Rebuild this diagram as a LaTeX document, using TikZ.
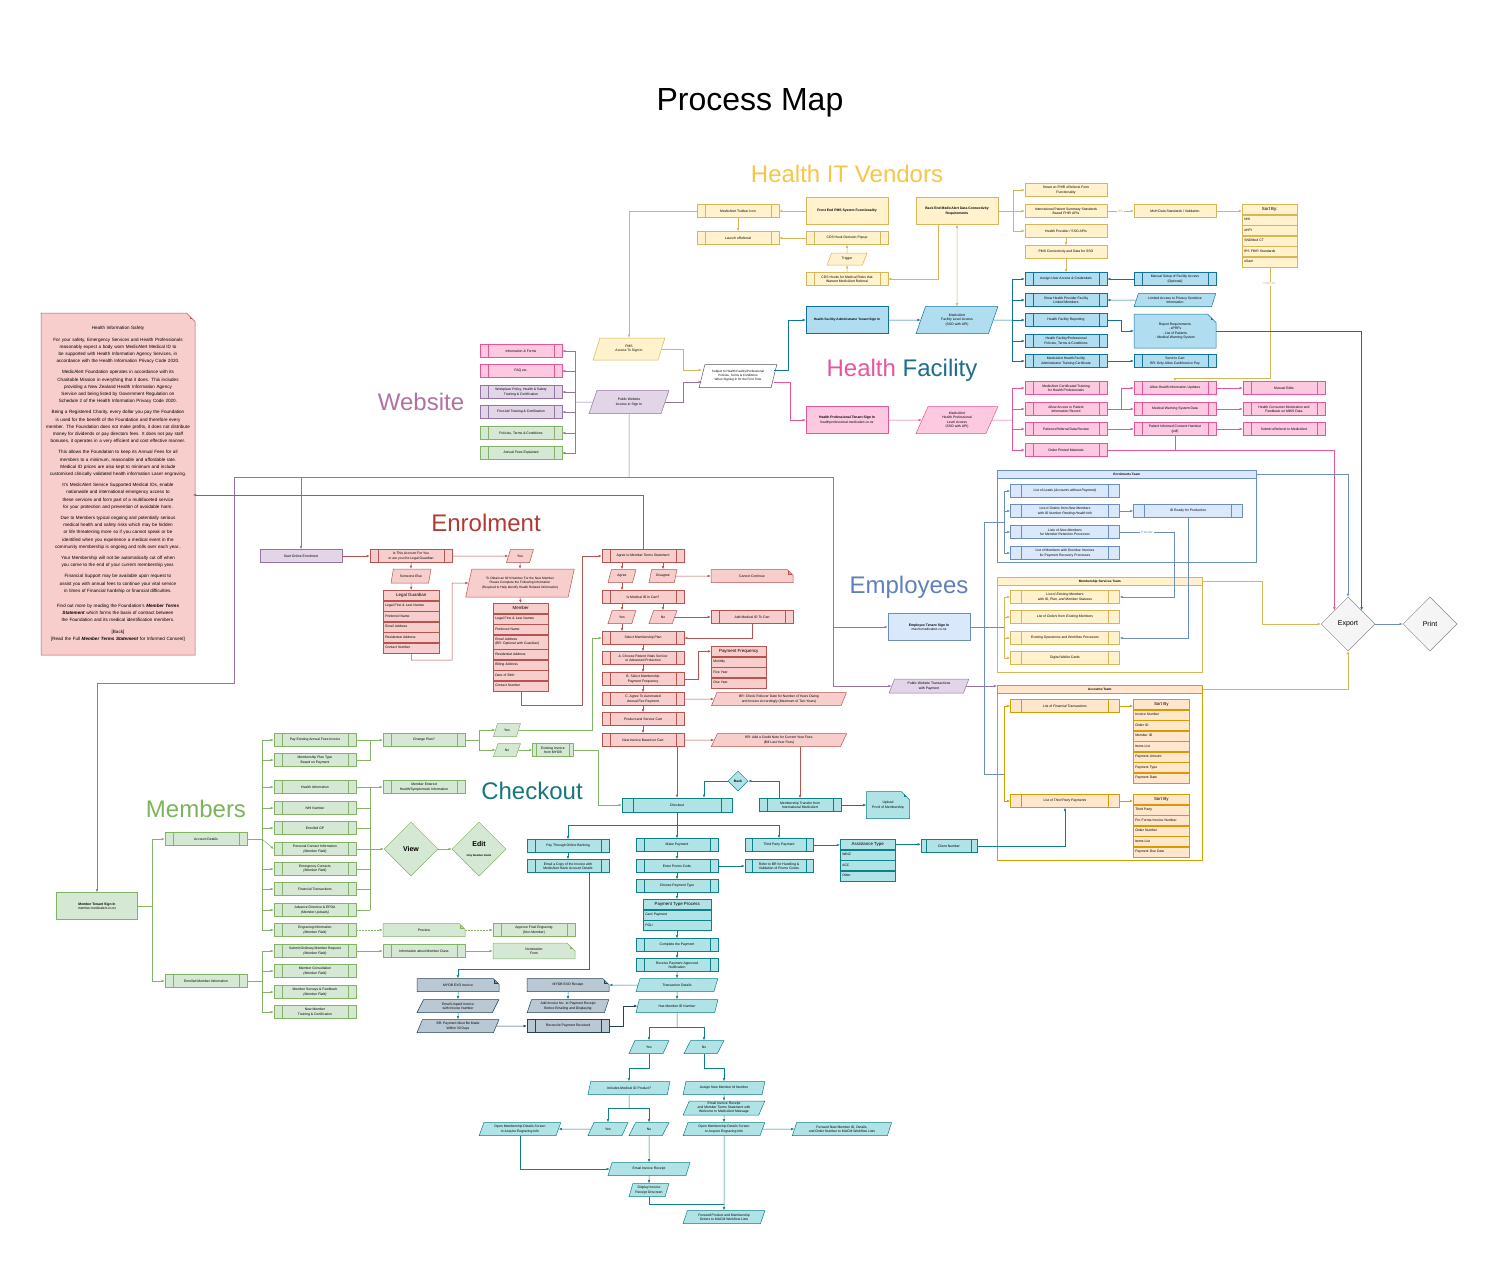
\documentclass[tikz,border=0pt]{standalone}
\usepackage{fontspec}
\setmainfont{Liberation Sans}
\usetikzlibrary{arrows.meta,calc,shapes.geometric,shapes.misc}
\hyphenpenalty=10000
\exhyphenpenalty=10000

\definecolor{yelF}{HTML}{FFF2CC}\definecolor{yelD}{HTML}{D6B656}
\definecolor{hfbF}{HTML}{B1DDF0}\definecolor{hfbD}{HTML}{10739E}
\definecolor{pnkF}{HTML}{FCC9E0}\definecolor{pnkD}{HTML}{E6549C}
\definecolor{purF}{HTML}{E1D5E7}\definecolor{purD}{HTML}{9673A6}
\definecolor{redF}{HTML}{F8CECC}\definecolor{redD}{HTML}{B85450}
\definecolor{grnF}{HTML}{D5E8D4}\definecolor{grnD}{HTML}{82B366}
\definecolor{teaF}{HTML}{B0E3E6}\definecolor{teaD}{HTML}{0E8088}
\definecolor{gryF}{HTML}{BAC8D3}\definecolor{gryD}{HTML}{23445D}
\definecolor{empF}{HTML}{DAE8FC}\definecolor{empD}{HTML}{6C8EBF}
\definecolor{orgF}{HTML}{FFE6CC}\definecolor{orgD}{HTML}{D79B00}
\definecolor{expF}{HTML}{F5F5F5}\definecolor{expD}{HTML}{888888}
\definecolor{whtF}{HTML}{FFFFFF}\definecolor{whtD}{HTML}{555555}
\definecolor{vendT}{HTML}{F6C646}
\definecolor{webT}{HTML}{B0739F}
\definecolor{enrT}{HTML}{B23A33}
\definecolor{empT}{HTML}{5F80B8}
\definecolor{memT}{HTML}{7DB35C}
\definecolor{chkT}{HTML}{15787D}
\definecolor{hlthT}{HTML}{E8559C}
\definecolor{facT}{HTML}{1B6E8F}

\newcommand\bxf{\fontsize{3.4}{4.3}\selectfont}
\newcommand\hxf{\fontsize{4.4}{5}\selectfont}

\tikzset{
  shp/.style={draw=#1D, fill=#1F, font=\bxf, align=center, inner sep=1pt,
    minimum width=82, minimum height=13},
  pbox/.style={rectangle, shp=#1},
  proc/.style={rectangle, shp=#1, path picture={
    \draw[#1D] ($(path picture bounding box.north west)!0.1!(path picture bounding box.north east)$)
      -- ($(path picture bounding box.south west)!0.1!(path picture bounding box.south east)$)
      ($(path picture bounding box.north west)!0.9!(path picture bounding box.north east)$)
      -- ($(path picture bounding box.south west)!0.9!(path picture bounding box.south east)$);}},
  para/.style={trapezium, trapezium left angle=70, trapezium right angle=110,
    trapezium stretches=true, shp=#1},
  docn/.style={chamfered rectangle, chamfered rectangle corners=north east,
    chamfered rectangle xsep=5pt, shp=#1, path picture={
    \filldraw[draw=#1D, fill=#1D!30!#1F]
      ([xshift=-5pt]path picture bounding box.north east)
      -- ([xshift=-5pt,yshift=-5pt]path picture bounding box.north east)
      -- ([yshift=-5pt]path picture bounding box.north east);}},
  dia/.style={diamond, aspect=1, draw=#1D, fill=#1F, inner sep=0pt, align=center,
    minimum width=54, minimum height=54, font=\fontsize{7}{8}\selectfont},
  lhead/.style={rectangle, draw=#1D, fill=#1F, font=\hxf, anchor=north west,
    minimum height=10, inner sep=1pt},
  litem/.style={rectangle, draw=#1D, fill=#1F, font=\bxf, anchor=north west,
    align=left, minimum height=10, inner xsep=2pt, inner ysep=1pt},
  cont/.style={draw=#1D, anchor=north west, inner sep=0pt},
  chead/.style={draw=#1D, fill=#1F, anchor=north west, minimum height=8, inner sep=0pt,
    font=\bfseries\fontsize{3.2}{4}\selectfont},
  arr/.style={-{Latex[length=3.2pt,width=2.6pt]}},
  lbl/.style={fill=white, inner sep=1pt, font=\fontsize{3.2}{4}\selectfont},
  sect/.style={font=\fontsize{24}{28}\selectfont}
}

\begin{document}
\begin{tikzpicture}[x=1pt,y=-1pt,line width=0.5pt]
\fill[white] (0,0) rectangle (1500,1267);
\useasboundingbox (0,0) rectangle (1500,1267);

\node[font=\fontsize{32}{36}\selectfont] (ttl) at (750,103) {Process Map};
\node[sect, text=vendT] (tven) at (847,174) {Health IT Vendors};
\node[sect] (thf) at (902,370) {\textcolor{hlthT}{Health} \textcolor{facT}{Facility}};
\node[sect, text=webT] (tweb) at (421,402) {Website};
\node[sect, text=enrT] (tenr) at (486,523) {Enrolment};
\node[sect, text=empT] (temp) at (909,587) {Employees};
\node[sect, text=memT] (tmem) at (196,809) {Members};
\node[sect, text=chkT] (tchk) at (532,791) {Checkout};

\node[proc=yel] (tool) at (738,211) {MedicAlert Toolbar Icon};
\node[proc=yel] (lau) at (738,238) {Launch eReferral};
\node[pbox=yel, minimum height=27, font=\bxf\bfseries] (fe) at (847,211) {Front End PMS System Functionality};
\node[proc=yel] (cdsp) at (847,238) {CDS Hook Decision Popup};
\node[para=yel, minimum width=40, minimum height=12] (trig) at (847,259) {Trigger};
\node[proc=yel] (cdsr) at (847,279) {CDS Hooks for Medical Risks that\\Warrant MedicAlert Referral};
\node[pbox=yel, minimum height=27, font=\bxf\bfseries] (be) at (957,211) {Back End MedicAlert Data Connectivity\\Requirements};
\node[pbox=yel] (sof) at (1066,190) {Smart on FHIR eReferral Form\\Functionality};
\node[pbox=yel] (ips) at (1066,211) {International Patient Summary Standards\\Based FHIR APIs};
\node[pbox=yel] (hps) at (1066,231) {Health Provider / SSO APIs};
\node[pbox=yel] (pmsc) at (1066,252) {PMS Connectivity and Data for SSO};
\node[pbox=yel] (moh) at (1175,211) {MoH Data Standards / Validation};
\node[lhead=yel, minimum width=55] (sbv) at (1242,204) {Sort By:};
\node[litem=yel, text width=51] (sbv1) at (sbv.south west) {NHI};
\node[litem=yel, text width=51] (sbv2) at (sbv1.south west) {eHPI};
\node[litem=yel, text width=51] (sbv3) at (sbv2.south west) {SNOMed CT};
\node[litem=yel, text width=51] (sbv4) at (sbv3.south west) {IPS FHIR Standards};
\node[litem=yel, text width=51] (sbv5) at (sbv4.south west) {eSam};

\node[pbox=hfb, minimum height=27, font=\fontsize{3.2}{4.2}\selectfont\bfseries] (hfa) at (847,320) {Health Facility Administrator Tenant Sign In};
\node[para=hfb, minimum height=27] (fla) at (957,320) {MedicAlert\\Facility Level Access\\(SSO with API)};
\node[proc=hfb] (aua) at (1066,279) {Assign User Access \& Credentials};
\node[proc=hfb] (shp) at (1066,300) {Show Health Provider Facility\\Linked Members};
\node[proc=hfb] (hfr) at (1066,320) {Health Facility Reporting};
\node[proc=hfb] (hpp) at (1066,341) {Health Facility/Professional\\Policies, Terms \& Conditions};
\node[proc=hfb] (atc) at (1066,361) {MedicAlert Health Facility\\Administrator Training Certificate};
\node[proc=hfb] (msf) at (1175,279) {Manual Setup of Facility Access\\(Optional)};
\node[para=hfb] (lap) at (1175,300) {Limited Access to Privacy Sensitive\\Information};
\node[docn=hfb, minimum height=34] (rep) at (1175,331) {Report Requirements\\- ePRFs\\- List of Patients\\- Medical Warning System};
\node[proc=hfb] (stc) at (1175,361) {Send to Cart\\BR: Only Allow Card/Invoice Pay};

\node[pbox=pnk, minimum height=27] (hpt) at (847,420) {\textbf{Health Professional Tenant Sign In}\\healthprofessional.medicalert.co.nz};
\node[para=pnk, minimum height=27] (hla) at (957,420) {MedicAlert\\Health Professional\\Level Access\\(SSO with API)};
\node[proc=pnk] (mct) at (1066,388) {MedicAlert Certificated Training\\for Health Professionals};
\node[proc=pnk] (aap) at (1066,409) {Allow Access to Patient\\Information Record};
\node[proc=pnk] (ped) at (1066,429) {Patient eReferral Data Review};
\node[proc=pnk] (opm) at (1066,450) {Order Printed Materials};
\node[proc=pnk] (ahu) at (1175,388) {Allow Health Information Updates};
\node[proc=pnk] (mws) at (1175,409) {Medical Warning System Data};
\node[proc=pnk] (pic) at (1175,429) {Patient Informed Consent Handout\\(pdf)};
\node[proc=pnk] (med) at (1284,388) {Manual Edits};
\node[proc=pnk] (hcm) at (1284,409) {Health Consumer Moderation and\\Feedback on MWS Data};
\node[proc=pnk] (sbm) at (1284,429) {Submit eReferral to MedicAlert};

\node[para=yel, minimum width=72, minimum height=22] (pms) at (629,349) {PMS\\Access To Sign In};
\node[para=pur, minimum width=80, minimum height=23] (pws) at (629,402) {Public Website\\Access to Sign In};
\node[para=wht, minimum width=78, minimum height=23, font=\fontsize{3.1}{4}\selectfont] (subj) at (738,376) {Subject to Health Facility/Professional\\Policies, Terms \& Conditions\\When Signing in for the First Time};
\node[proc=pnk] (inf) at (521,351) {Information \& Forms};
\node[proc=pnk] (faq) at (521,371) {FAQ etc.};
\node[proc=pur] (wph) at (521,392) {Workplace Policy, Health \& Safety\\Training \& Certification};
\node[proc=pur] (fat) at (521,412) {First Aid Training \& Certification};
\node[proc=grn] (ptc) at (521,433) {Policies, Terms \& Conditions};
\node[proc=grn] (afe) at (521,453) {Annual Fees Explained};

\node[docn=red, minimum width=150, minimum height=342, text width=144, inner xsep=0pt, inner ysep=2pt,
  font=\fontsize{4.6}{7.2}\selectfont] (hns) at (118,484) {Health Information Safety\\[4pt]
For your safety, Emergency Services and Health Professionals reasonably expect a body worn MedicAlert Medical ID to be supported with Health Information Agency Services, in accordance with the Health Information Privacy Code 2020.\\[4pt]
MedicAlert Foundation operates in accordance with its Charitable Mission in everything that it does. This includes providing a New Zealand Health Information Agency Service and being listed by Government Regulation on Schedule 2 of the Health Information Privacy Code 2020.\\[4pt]
Being a Registered Charity, every dollar you pay the Foundation is used for the benefit of the Foundation and therefore every member. The Foundation does not make profits, it does not distribute money for dividends or pay directors fees. It does not pay staff bonuses, it operates in a very efficient and cost effective manner.\\[4pt]
This allows the Foundation to keep its Annual Fees for all members to a minimum, reasonable and affordable rate. Medical ID prices are also kept to minimum and include customised clinically validated health information Laser engraving.\\[4pt]
It's MedicAlert Service Supported Medical IDs, enable nationwide and international emergency access to these services and form part of a multifaceted service for your protection and prevention of avoidable harm.\\[4pt]
Due to Members typical ongoing and potentially serious medical health and safety risks which may be hidden or life threatening more so if you cannot speak or be identified when you experience a medical event in the community membership is ongoing and rolls over each year..\\[4pt]
Your Membership will not be automatically cut off when you come to the end of your current membership year.\\[4pt]
Financial Support may be available upon request to assist you with annual fees to continue your vital service in times of Financial hardship or financial difficulties.\\[8pt]
Find out more by reading the Foundation's \textbf{\textit{Member Terms Statement}} which forms the basis of contract between the Foundation and its medical identification members.\\[4pt]
[Back]\\{}[Read the Full \textbf{\textit{Member Terms Statement}} for Informed Consent]};

\node[pbox=pur] (sol) at (301,556) {Start Online Enrolment};
\node[proc=red] (ita) at (411,556) {Is This Account For You\\or are you the Legal Guardian};
\node[para=red, minimum width=27] (you) at (520,556) {You};
\node[para=red, minimum width=40, minimum height=14] (sme) at (411,576) {Someone Else};
\node[lhead=red, minimum width=56] (lg) at (383,590) {Legal Guardian};
\node[litem=red, text width=52] (lg1) at (lg.south west) {Legal First \& Last Names};
\node[litem=red, text width=52] (lg2) at (lg1.south west) {Preferred Name};
\node[litem=red, text width=52] (lg3) at (lg2.south west) {Email Address};
\node[litem=red, text width=52] (lg4) at (lg3.south west) {Residential Address};
\node[litem=red, text width=52] (lg5) at (lg4.south west) {Contact Number};
\node[para=red, minimum width=109, minimum height=28, font=\fontsize{3.2}{4.3}\selectfont] (nhi) at (520,583) {To Obtain an NHI Number For the New Member\\Please Complete the Following Information\\(Required to Help Identify Health Related Information)};
\node[lhead=red, minimum width=55] (mem) at (493,603) {Member};
\node[litem=red, text width=51] (mem1) at (mem.south west) {Legal First \& Last Names};
\node[litem=red, text width=51] (mem2) at (mem1.south west) {Preferred Name};
\node[litem=red, text width=51, minimum height=14] (mem3) at (mem2.south west) {Email Address\\(BR: Optional with Guardian)};
\node[litem=red, text width=51] (mem4) at (mem3.south west) {Residential Address};
\node[litem=red, text width=51] (mem5) at (mem4.south west) {Billing Address};
\node[litem=red, text width=51] (mem6) at (mem5.south west) {Date of Birth};
\node[litem=red, text width=51] (mem7) at (mem6.south west) {Contact Number};
\node[proc=red] (agt) at (643,556) {Agree to Member Terms Statement};
\node[para=red, minimum width=28] (agr) at (622,576) {Agree};
\node[para=red, minimum width=28] (dis) at (663,576) {Disagree};
\node[docn=red] (ccn) at (752,576) {Cannot Continue};
\node[proc=red] (imc) at (643,597) {Is Medical ID In Cart?};
\node[para=red, minimum width=28] (imy) at (622,617) {Yes};
\node[para=red, minimum width=28] (imn) at (663,617) {No};
\node[proc=red] (amc) at (752,617) {Add Medical ID To Cart};
\node[proc=red] (smp) at (643,638) {Select Membership Plan};
\node[proc=red] (cpv) at (643,658) {A. Choose Patient Vitals Service\\or Advanced Protection};
\node[proc=red] (smf) at (643,679) {B. Select Membership\\Payment Frequency};
\node[proc=red] (aaf) at (643,699) {C. Agree To Automated\\Annual Fee Payment};
\node[proc=red] (psc) at (643,719) {Product and Service Cart};
\node[proc=red] (nib) at (643,740) {New Invoice Based on Cart};
\node[lhead=red, minimum width=55] (pf) at (711,646) {Payment Frequency};
\node[litem=red, text width=51] (pf1) at (pf.south west) {Monthly};
\node[litem=red, text width=51] (pf2) at (pf1.south west) {Five Year};
\node[litem=red, text width=51] (pf3) at (pf2.south west) {One Year};
\node[para=red, minimum width=136] (brr) at (779,699) {BR: Check Rollover Date for Number of Years Owing\\and Invoice Accordingly (Maximum of Two Years)};
\node[para=red, minimum width=136] (brc) at (779,740) {BR: Add a Credit Note for Current Year Fees\\(Bill Last Year Fees)};

\node[cont=emp, minimum width=259, minimum height=92] (ent) at (997,470) {};
\node[chead=emp, minimum width=259] (enh) at (997,470) {Enrolments Team};
\node[cont=yel, minimum width=205, minimum height=95] (mst) at (997,577) {};
\node[chead=yel, minimum width=205] (msh) at (997,577) {Membership Services Team};
\node[cont=org, minimum width=205, minimum height=175] (act) at (997,685) {};
\node[chead=org, minimum width=205] (ach) at (997,685) {Accounts Team};
\node[pbox=emp, minimum height=27] (ets) at (929,627) {\textbf{Employee Tenant Sign In}\\macm.medicalert.co.nz};
\node[para=pur, minimum width=80, minimum height=14] (pwt) at (929,686) {Public Website Transactions\\with Payment};
\node[proc=emp, minimum width=109] (lead) at (1065,491) {List of \textit{Leads (Accounts without Payment)}};
\node[proc=emp, minimum width=109] (lno) at (1065,511) {List of \textit{Orders} from \textit{New Members}\\\textit{with ID Number Pending Health Info}};
\node[proc=emp, minimum width=109] (lnm) at (1065,532) {Lists of \textit{New Members}\\\textit{for Member Retention Processes}};
\node[proc=emp, minimum width=109] (lod) at (1065,553) {List of Members with Overdue Invoices\\for Payment Recovery Processes};
\node[proc=emp, minimum width=109] (idr) at (1188,511) {ID Ready for Production};
\node[proc=yel, minimum width=109] (exm) at (1065,597) {List of \textit{Existing Members}\\\textit{with ID, Plan, and Member Statuses}};
\node[proc=yel, minimum width=109] (oem) at (1065,617) {List of \textit{Orders} from \textit{Existing Members}};
\node[proc=yel, minimum width=109] (eop) at (1065,638) {Existing Operations and \textit{Workflow Processes}};
\node[proc=yel, minimum width=109] (dwc) at (1065,658) {Digital Wallet Cards};
\node[proc=org, minimum width=109] (lft) at (1065,706) {List of \textit{Financial Transactions}};
\node[lhead=org, minimum width=56] (sba) at (1133,699) {Sort By};
\node[litem=org, text width=52] (sba1) at (sba.south west) {Invoice Number};
\node[litem=org, text width=52] (sba2) at (sba1.south west) {Order ID};
\node[litem=org, text width=52] (sba3) at (sba2.south west) {Member ID};
\node[litem=org, text width=52] (sba4) at (sba3.south west) {Items List};
\node[litem=org, text width=52] (sba5) at (sba4.south west) {Payment Amount};
\node[litem=org, text width=52] (sba6) at (sba5.south west) {Payment Type};
\node[litem=org, text width=52] (sba7) at (sba6.south west) {Payment Date};
\node[proc=org, minimum width=109] (ltp) at (1065,801) {List of \textit{Third Party Payments}};
\node[lhead=org, minimum width=56] (sbb) at (1133,794) {Sort By};
\node[litem=org, text width=52] (sbb1) at (sbb.south west) {Third Party};
\node[litem=org, text width=52] (sbb2) at (sbb1.south west) {Pro Forma Invoice Number};
\node[litem=org, text width=52] (sbb3) at (sbb2.south west) {Order Number};
\node[litem=org, text width=52] (sbb4) at (sbb3.south west) {Items List};
\node[litem=org, text width=52] (sbb5) at (sbb4.south west) {Payment Due Date};
\node[dia=exp] (expt) at (1348,624) {Export};
\node[dia=exp] (prt) at (1430,624) {Print};

\node[pbox=grn, minimum width=81, minimum height=27] (mts) at (97,906) {\textbf{Member Tenant Sign In}\\member.medicalert.co.nz};
\node[proc=grn] (acd) at (206,839) {Account Details};
\node[proc=grn] (emi) at (206,981) {Enrolled Member Information};
\node[proc=grn] (m1) at (315,740) {Pay Existing Annual Fees Invoice};
\node[proc=grn] (m2) at (315,760) {Membership Plan Type\\Based on Payment};
\node[proc=grn] (m3) at (315,787) {Health Information};
\node[proc=grn] (m4) at (315,808) {NHI Number};
\node[proc=grn] (m5) at (315,828) {Enrolled GP};
\node[proc=grn] (m6) at (315,849) {Personal Contact Information\\\textit{(Member Field)}};
\node[proc=grn] (m7) at (315,869) {Emergency Contacts\\\textit{(Member Field)}};
\node[proc=grn] (m8) at (315,889) {Financial Transactions};
\node[proc=grn] (m9) at (315,910) {Advance Directive \& EPOA\\\textit{(Member Uploads)}};
\node[proc=grn] (m10) at (315,930) {Engraving Information\\\textit{(Member Field)}};
\node[proc=grn] (m11) at (315,951) {Submit Ordinary Member Request\\\textit{(Member Field)}};
\node[proc=grn] (m12) at (315,971) {Member Consultation\\\textit{(Member Field)}};
\node[proc=grn] (m13) at (315,992) {Member Surveys \& Feedback\\\textit{(Member Field)}};
\node[proc=grn] (m14) at (315,1012) {New Member\\Training \& Certification};
\node[proc=grn] (cpl) at (424,740) {Change Plan?};
\node[para=grn, minimum width=27] (cy) at (507,730) {Yes};
\node[para=grn, minimum width=27] (cn) at (507,750) {No};
\node[proc=grn, minimum width=41] (exi) at (553,750) {Existing Invoice\\from MYOB};
\node[proc=grn] (meh) at (424,787) {Member Entered\\Health/Symptomatic Information};
\node[dia=grn, font=\fontsize{7}{8}\selectfont\bfseries] (view) at (411,849) {View};
\node[dia=grn] (edit) at (479,849) {\textbf{Edit}\\[2pt]{\fontsize{2.6}{3}\selectfont\bfseries\itshape Only Member Fields}};
\node[docn=grn] (prv) at (424,930) {Preview};
\node[proc=grn] (afg) at (534,930) {Approve Final Engraving\\(Non Member)};
\node[proc=grn] (imcl) at (424,951) {Information about Member Class};
\node[docn=grn] (nom) at (534,951) {Nomination\\Form};

\node[proc=tea, minimum width=110, minimum height=14] (chk) at (677,805) {Checkout};
\node[dia=tea, minimum width=20, minimum height=20, font=\bxf\bfseries] (back) at (738,781) {Back};
\node[proc=tea] (mtr) at (800,805) {Membership Transfer from\\International MedicAlert};
\node[docn=tea, minimum width=40, minimum height=27] (upl) at (888,805) {Upload\\Proof of Membership};
\node[proc=tea] (pob) at (568,846) {Pay Through Online Banking};
\node[proc=tea] (ecp) at (568,866) {Email a Copy of the Invoice with\\MedicAlert Bank Account Details};
\node[proc=tea] (mkp) at (677,845) {Make Payment};
\node[proc=tea] (epc) at (677,866) {Enter Promo Code};
\node[proc=tea] (cpt) at (677,886) {Choose Payment Type};
\node[lhead=tea, minimum width=68] (ptp) at (643,899) {Payment Type Process};
\node[litem=tea, text width=64] (ptp1) at (ptp.south west) {Card Payment};
\node[litem=tea, text width=64] (ptp2) at (ptp1.south west) {POLi};
\node[proc=tea] (cmp) at (677,945) {Complete the Payment};
\node[proc=tea] (rpa) at (677,965) {Receive Payment Approved\\Notification};
\node[para=tea] (trd) at (677,985) {Transaction Details};
\node[para=tea] (hmi) at (677,1006) {Has Member ID Number};
\node[proc=tea, minimum width=68] (tpp) at (779,845) {Third Party Payment};
\node[proc=tea, minimum width=68] (rbr) at (779,866) {Refer to BR for Handling \&\\Validation of Promo Codes};
\node[lhead=tea, minimum width=55] (ast) at (840,839) {Assistance Type};
\node[litem=tea, text width=51] (ast1) at (ast.south west) {WINZ};
\node[litem=tea, text width=51] (ast2) at (ast1.south west) {ACC};
\node[litem=tea, text width=51] (ast3) at (ast2.south west) {Other};
\node[proc=tea, minimum width=56] (cln) at (949,846) {Client Number};

\node[docn=gry] (myi) at (458,985) {MYOB EXO Invoice};
\node[para=gry] (eui) at (458,1006) {Email Unpaid Invoice\\with Invoice Number};
\node[para=gry] (b30) at (458,1026) {BR: Payment Must Be Made\\Within 30 Days};
\node[docn=gry] (myr) at (568,985) {MYOB EXO Receipt};
\node[para=gry] (ain) at (568,1006) {Add Invoice No. to Payment Receipt\\Before Emailing and Displaying};
\node[proc=gry] (rec) at (568,1026) {Reconcile Payment Received};

\node[para=tea, minimum width=40] (y1) at (649,1047) {Yes};
\node[para=tea, minimum width=40] (n1) at (704,1047) {No};
\node[para=tea] (inc) at (629,1088) {Includes Medical ID Product?};
\node[para=tea] (asg) at (724,1088) {Assign New Member Id Number};
\node[para=tea, minimum height=14, font=\fontsize{3.4}{4}\selectfont] (eim) at (724,1108) {Email Invoice Receipt\\and Member Terms Statement with\\Welcome to MedicAlert Message};
\node[para=tea, minimum width=40] (y2) at (608,1129) {Yes};
\node[para=tea, minimum width=40] (n2) at (649,1129) {No};
\node[para=tea] (oml) at (520,1129) {Open Membership Details Screen\\to Acquire Engraving Info};
\node[para=tea] (omr) at (724,1129) {Open Membership Details Screen\\to Acquire Engraving Info};
\node[para=tea, minimum width=100] (fnm) at (842,1129) {Forward New Member ID, Details,\\and Order Number to MACM Workflow Lists};
\node[para=tea] (eir) at (649,1169) {Email Invoice Receipt};
\node[para=tea, minimum width=40] (dir) at (649,1190) {Display Invoice\\Receipt Onscreen};
\node[para=tea] (fpm) at (724,1217) {Forward Product and Membership\\Orders to MACM Workflow Lists};

\draw[arr,yelD] (fe.west) -- (tool.east);
\draw[arr,yelD] (cdsp.west) -- (lau.east);
\draw[arr,yelD] (tool.south) -- (lau.north);
\draw[arr,yelD] (trig.north) -- (cdsp.south);
\draw[arr,yelD] (cdsr.north) -- (trig.south);
\draw[arr,yelD] ([xshift=-19pt]be.south) |- (cdsr.east);
\draw[{Latex[length=3.2pt,width=2.6pt]}-{Latex[length=3.2pt,width=2.6pt]},yelD] (be.south) -- (fla.north);
\coordinate (vb) at (1013,211);
\draw[yelD] (be.east) -- (vb);
\draw[arr,yelD] (vb) |- (sof.west);
\draw[arr,yelD] (vb) -- (ips.west);
\draw[arr,yelD] (vb) |- (hps.west);
\draw[arr,yelD] (ips.east) -- node[lbl,text=yelD] {HIS} (moh.west);
\draw[arr,yelD] (moh.east) -- (moh.east -| sbv.west);
\draw[arr,yelD] (hps.south) -- (pmsc.north);
\draw[arr,yelD] (pmsc.south) -- (aua.north);
\draw[arr,yelD] (sbv5.south) -- node[lbl,text=yelD,pos=0.15] {DIGITAL} ++(0,111) -| (ahu.north);
\draw[arr,yelD] (tool.west) -| (pms.north);

\draw[arr,hfbD] (hfa.east) -- (fla.west);
\coordinate (fb) at (1012,320);
\draw[hfbD] (fla.east) -- (fb);
\draw[arr,hfbD] (fb) |- (aua.west);
\draw[arr,hfbD] (fb) |- (shp.west);
\draw[arr,hfbD] (fb) -- (hfr.west);
\draw[arr,hfbD] (fb) |- (hpp.west);
\draw[arr,hfbD] (fb) |- (atc.west);
\draw[arr,hfbD] (msf.west) -- (aua.east);
\draw[arr,hfbD] (lap.west) -- (shp.east);
\draw[arr,hfbD] (hfr.east) -- ++(14,0) |- (rep.west);
\draw[arr,hfbD] (atc.east) -- (stc.west);
\draw[arr,hfbD] (rep.east) -| (expt.north east);

\draw[arr,pnkD] (hpt.east) -- (hla.west);
\coordinate (pb) at (1012,420);
\draw[pnkD] (hla.east) -- (pb);
\draw[arr,pnkD] (pb) |- (mct.west);
\draw[arr,pnkD] (pb) |- (aap.west);
\draw[arr,pnkD] (pb) |- (ped.west);
\draw[arr,pnkD] (pb) |- (opm.west);
\draw[arr,pnkD] (aap.east) -- (mws.west);
\draw[arr,pnkD] (aap.east) -- ++(14,0) |- (ahu.west);
\draw[arr,pnkD] (ped.east) -- (pic.west);
\draw[arr,pnkD] (ahu.east) -- (med.west);
\draw[arr,pnkD] (mws.east) -- (hcm.west);
\draw[arr,pnkD] (pic.east) -- (sbm.west);
\draw[pnkD] (pic.south) -- (pic.south |- opm.east);
\draw[arr,pnkD] (opm.east) -| (expt.north west);

\coordinate (sj) at (683,370);
\coordinate (sk) at (683,382);
\draw[arr,yelD] (pms.east) -| (sj) -- ([yshift=6pt]subj.west);
\draw[arr,purD] (pws.east) -| (sk) -- ([yshift=-6pt]subj.west);
\draw[arr,hfbD] ([yshift=6pt]subj.east) -- ++(14,0) |- (hfa.west);
\draw[arr,pnkD] ([yshift=-6pt]subj.east) -- ++(16,0) |- (hpt.west);
\coordinate (wb) at (575,402);
\draw[purD] (pws.west) -- (wb);
\draw[arr,purD] (wb) |- (inf.east);
\draw[arr,purD] (wb) |- (faq.east);
\draw[arr,purD] (wb) |- (wph.east);
\draw[arr,purD] (wb) |- (fat.east);
\draw[arr,purD] (wb) |- (ptc.east);
\draw[arr,purD] (wb) |- (afe.east);

\coordinate (pa) at (629,477);
\coordinate (pl) at (234,477);
\coordinate (pr) at (833,477);
\coordinate (pll) at (234,683);
\draw[purD] (pws.south) -- (pa);
\draw[purD] (pl) -- (pr);
\draw[arr,purD] (sol.north |- pa) -- (sol.north);
\draw[arr,purD] (pl) -- (pll) -| (mts.north);
\draw[arr,purD] (pr) |- (pwt.west);
\draw[arr,purD] (pr |- ets.west) -- (ets.west);
\coordinate (hnsin) at (193,495);
\draw[arr,redD] (agt.north) |- (hnsin);

\draw[arr,redD] (sol.east) -- (ita.west);
\draw[arr,redD] (ita.east) -- (you.west);
\draw[arr,redD] (ita.south) -- (sme.north);
\draw[arr,redD] (sme.south) -- (lg.north);
\draw[arr,redD] (you.south) -- (nhi.north);
\draw[arr,redD] (nhi.south) -- (mem.north);
\draw[arr,redD] (lg5.south) -- ++(0,7) -| (452,583) -- (nhi.west);
\draw[arr,redD] (mem7.south) -- ++(0,14) -| (582,556) -- (agt.west);
\draw[arr,redD] (agt.south -| agr.north) -- (agr.north);
\draw[arr,redD] (agt.south -| dis.north) -- (dis.north);
\draw[arr,redD] (dis.east) -- (ccn.west);
\draw[arr,redD] (agr.south) -- (agr.south |- imc.north);
\draw[arr,redD] (imc.south -| imy.north) -- (imy.north);
\draw[arr,redD] (imc.south -| imn.north) -- (imn.north);
\draw[arr,redD] (imn.east) -- (amc.west);
\draw[arr,redD] (imy.south) -- (imy.south |- smp.north);
\draw[arr,redD] (amc.south) |- (smp.east);
\draw[arr,redD] (smp.south) -- (cpv.north);
\draw[arr,redD] (cpv.south) -- (smf.north);
\draw[arr,redD] (smf.south) -- (aaf.north);
\draw[arr,redD] (aaf.south) -- (psc.north);
\draw[arr,redD] (psc.south) -- (nib.north);
\draw[arr,redD] (smf.east) -- ++(14,0) |- (pf.west);
\draw[arr,redD] (aaf.east) -- (brr.west);
\draw[arr,redD] (nib.east) -- (brc.west);
\draw[arr,redD] (nib.south -| chk.north) -- (chk.north);
\draw[arr,redD] (brc.south -| mtr.north) -- (mtr.north);

\coordinate (ej) at (984,627);
\coordinate (enb) at (1004,522);
\coordinate (emb) at (1004,627);
\coordinate (eab) at (1004,774);
\draw[empD] (ets.east) -- (ej);
\draw[empD] (ej) |- (enb);
\draw[empD] (ej) -- (emb);
\draw[empD] (ej) |- (eab);
\draw[arr,empD] (enb) |- (lead.west);
\draw[arr,empD] (enb) |- (lno.west);
\draw[arr,empD] (enb) |- (lnm.west);
\draw[arr,empD] (enb) |- (lod.west);
\draw[arr,yelD] (emb) |- (exm.west);
\draw[arr,yelD] (emb) |- (oem.west);
\draw[arr,yelD] (emb) |- (eop.west);
\draw[arr,yelD] (emb) |- (dwc.west);
\draw[arr,orgD] (eab) |- (lft.west);
\draw[arr,orgD] (eab) |- (ltp.west);
\draw[arr,purD] (pwt.east) -- (act.west |- pwt.east);
\draw[arr,empD] (lno.east) -- (idr.west);
\draw[arr,empD] (lnm.east) -- node[lbl,text=empD] {Transfer} ++(54,0) |- (exm.east);
\draw[arr,empD] (idr.south) |- (eop.east);
\draw[arr,orgD] (lft.east) -- (lft.east -| sba.west);
\draw[arr,orgD] (ltp.east) -- (ltp.east -| sbb.west);
\draw[arr,empD] (enh.east) -| (expt.north);
\draw[arr,yelD] (msh.east) -- ++(60,0) |- (expt.west);
\draw[arr,yelD] (ach.east) -| (expt.south);
\draw[arr,empD] (expt.east) -- (prt.west);

\coordinate (mb) at (152,906);
\draw[grnD] (mts.east) -- (mb);
\draw[arr,grnD] (mb) |- (acd.west);
\draw[arr,grnD] (mb) |- (emi.west);
\coordinate (ab) at (262,839);
\draw[grnD] (acd.east) -- (ab);
\draw[arr,grnD] (ab) |- (m1.west);
\draw[arr,grnD] (ab) |- (m2.west);
\draw[arr,grnD] (ab) |- (m3.west);
\draw[arr,grnD] (ab) |- (m4.west);
\draw[arr,grnD] (ab) |- (m5.west);
\draw[arr,grnD] (ab) -- (m6.west);
\draw[arr,grnD] (ab) |- (m7.west);
\draw[arr,grnD] (ab) |- (m8.west);
\draw[arr,grnD] (ab) |- (m9.west);
\draw[arr,grnD] (ab) |- (m10.west);
\coordinate (eb) at (262,981);
\draw[grnD] (emi.east) -- (eb);
\draw[arr,grnD] (eb) |- (m11.west);
\draw[arr,grnD] (eb) |- (m12.west);
\draw[arr,grnD] (eb) |- (m13.west);
\draw[arr,grnD] (eb) |- (m14.west);
\coordinate (cb) at (370,740);
\draw[arr,grnD] (m1.east) -- (cpl.west);
\draw[grnD] (m2.east) -| (cb);
\coordinate (yb) at (479,740);
\draw[grnD] (cpl.east) -- (yb);
\draw[arr,grnD] (yb) |- (cy.west);
\draw[arr,grnD] (yb) |- (cn.west);
\coordinate (gy) at (592,638);
\draw[arr,grnD] (cy.east) -| (gy) -- (smp.west);
\draw[arr,grnD] (cn.east) -- (exi.west);
\coordinate (gx) at (598,805);
\draw[arr,grnD] (exi.east) -| (gx) -- (chk.west);
\coordinate (hb) at (370,849);
\draw[arr,grnD] (m3.east) -- (meh.west);
\draw[grnD] (m3.east -| hb) -- (m9.east -| hb);
\draw[grnD] (m4.east) -- (m4.east -| hb);
\draw[grnD] (m5.east) -- (m5.east -| hb);
\draw[grnD] (m6.east) -- (hb);
\draw[grnD] (m7.east) -- (m7.east -| hb);
\draw[grnD] (m8.east) -- (m8.east -| hb);
\draw[grnD] (m9.east) -- (m9.east -| hb);
\draw[arr,grnD] (hb) -- (view.west);
\draw[arr,grnD] (view.east) -- (edit.west);
\draw[arr,grnD,dash pattern=on 1.5pt off 1.5pt] (m10.east) -- (prv.west);
\draw[arr,grnD,dash pattern=on 1.5pt off 1.5pt] (prv.east) -- (afg.west);
\draw[arr,grnD] (m11.east) -- (imcl.west);
\draw[arr,grnD] (imcl.east) -- (nom.west);

\draw[arr,teaD] ([xshift=-21pt]mtr.north) |- (back.east);
\draw[arr,teaD] (back.west) -| ([xshift=27pt]chk.north);
\draw[arr,teaD] (mtr.east) -- (upl.west);
\coordinate (cbus) at (677,825);
\draw[teaD] (chk.south) -- (cbus);
\draw[arr,teaD] (cbus) -- (mkp.north);
\draw[arr,teaD] (cbus) -| (pob.north);
\draw[arr,teaD] (cbus) -| (tpp.north);
\draw[arr,teaD] (pob.south) -- (ecp.north);
\draw[arr,teaD] ([xshift=21pt]ecp.south) -- ++(0,96) -| (myi.north);
\draw[arr,teaD] (mkp.south) -- (epc.north);
\draw[arr,teaD] (epc.south) -- (cpt.north);
\draw[arr,teaD] (cpt.south) -- (cpt.south |- ptp.north);
\draw[arr,teaD] (ptp2.south -| cmp.north) -- (cmp.north);
\draw[arr,teaD] (cmp.south) -- (rpa.north);
\draw[arr,teaD] (rpa.south) -- (trd.north);
\draw[arr,teaD] (trd.south) -- (hmi.north);
\draw[arr,teaD] (epc.east) -- (rbr.west);
\draw[arr,teaD] (tpp.east) -- (tpp.east -| ast.west);
\draw[arr,teaD] (ast.east) -- (ast.east -| cln.west);
\draw[arr,teaD] (cln.east) -| (ltp.south);
\draw[arr,teaD] (myi.south) -- (eui.north);
\draw[arr,teaD] (eui.south) -- (b30.north);
\draw[arr,gryD] (b30.east) -- (rec.west);
\draw[arr,teaD] (trd.west) -- (myr.east);
\draw[arr,teaD] (myr.south) -- (ain.north);
\draw[arr,gryD] (rec.east) -- ++(14,0) |- (hmi.west);

\coordinate (hs) at (677,1027);
\draw[teaD] (hmi.south) -- (hs);
\draw[arr,teaD] (hs) -| (y1.north);
\draw[arr,teaD] (hs) -| (n1.north);
\draw[arr,teaD] (y1.south) -- ++(0,14) -| (inc.north);
\draw[arr,teaD] (n1.south) -- ++(0,14) -| (asg.north);
\coordinate (is) at (629,1108);
\draw[teaD] (inc.south) -- (is);
\draw[arr,teaD] (is) -| (y2.north);
\draw[arr,teaD] (is) -| (n2.north);
\draw[arr,teaD] (y2.west) -- (oml.east);
\draw[arr,teaD] (oml.south) |- (eir.west);
\draw[arr,teaD] (n2.south) -- (eir.north);
\draw[arr,teaD] (eir.south) -- (dir.north);
\coordinate (dj) at (724,1204);
\draw[teaD] (dir.south) |- (dj);
\draw[arr,teaD] (asg.south) -- (eim.north);
\draw[arr,teaD] (eim.south) -- (omr.north);
\draw[arr,teaD] (omr.east) -- (fnm.west);
\draw[arr,teaD] (omr.south) -- (fpm.north);
\end{tikzpicture}
\end{document}
